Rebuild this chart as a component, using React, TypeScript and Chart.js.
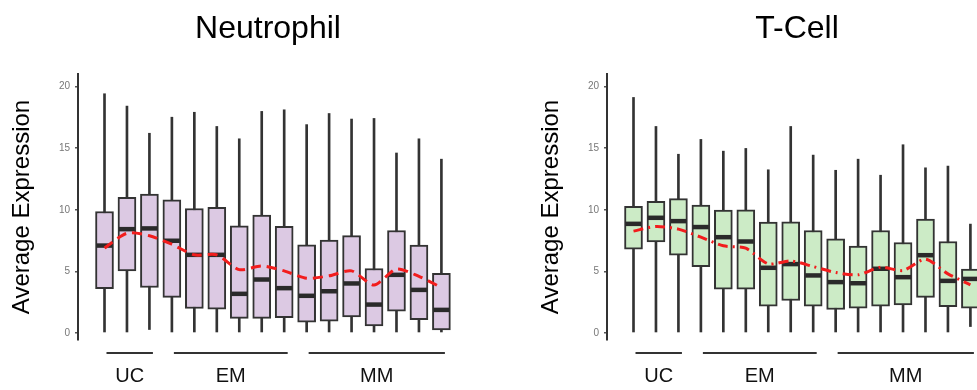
import React, { useEffect, useRef } from "react";
import { Chart, registerables } from "chart.js";

Chart.register(...registerables);

// ---------- data ----------
const BOX_INDEX = [0, 1, 2, 3, 4, 5, 6, 7, 8, 9, 10, 11, 12, 13, 14, 15];
const GROUP_NAMES = ["UC", "EM", "MM"];
const GROUP_FIRST = [0, 3, 9];
const GROUP_LAST = [2, 8, 15];
const Y_TICKS = [0, 5, 10, 15, 20];

const NEU_MIN = [0.1, 0.1, 0.3, 0.1, 0.1, 0.1, 0.1, 0.1, 0.1, 0.1, 0.1, 0.1, 0.1, 0.1, 0.1, 0.1];
const NEU_Q1 = [3.6, 5.05, 3.7, 2.9, 2.0, 1.95, 1.2, 1.2, 1.25, 0.9, 0.97, 1.32, 0.6, 1.78, 1.1, 0.27];
const NEU_MED = [7.1, 8.43, 8.49, 7.49, 6.35, 6.35, 3.19, 4.35, 3.65, 3.03, 3.4, 4.03, 2.32, 4.73, 3.51, 1.89];
const NEU_Q3 = [9.86, 11.0, 11.27, 10.8, 10.1, 10.2, 8.7, 9.57, 8.65, 7.16, 7.54, 7.9, 5.24, 8.32, 7.14, 4.86];
const NEU_MAX = [19.4, 18.4, 16.2, 17.5, 17.9, 16.75, 15.75, 17.97, 18.1, 16.9, 17.8, 17.35, 17.4, 14.6, 15.75, 14.1];
const NEU_MEAN = [6.9, 8.1, 7.9, 7.2, 6.35, 6.35, 5.15, 5.45, 5.05, 4.45, 4.65, 5.05, 3.9, 5.2, 4.6, 3.7];

const TC_MIN = [0.1, 0.1, 0.1, 0.1, 0.1, 0.1, 0.1, 0.1, 0.1, 0.1, 0.1, 0.1, 0.1, 0.1, 0.1, 0.54];
const TC_Q1 = [6.81, 7.4, 6.32, 5.4, 3.57, 3.57, 2.2, 2.65, 2.2, 1.92, 2.03, 2.2, 2.3, 2.9, 2.16, 2.03];
const TC_MED = [8.86, 9.35, 9.08, 8.6, 7.78, 7.43, 5.3, 5.6, 4.68, 4.14, 4.05, 5.22, 4.54, 6.32, 4.24, 4.4];
const TC_Q3 = [10.27, 10.68, 10.9, 10.38, 9.97, 10.0, 9.0, 9.03, 8.32, 7.65, 7.05, 8.32, 7.35, 9.24, 7.43, 5.2];
const TC_MAX = [19.1, 16.75, 14.5, 15.7, 14.75, 14.97, 13.24, 16.75, 14.43, 13.2, 14.1, 12.8, 15.27, 13.4, 13.54, 8.84];
const TC_MEAN = [8.27, 8.65, 8.43, 7.78, 7.08, 6.89, 5.62, 5.86, 5.4, 4.92, 4.73, 5.35, 5.08, 6.0, 4.81, 3.92];

// ---------- style ----------
const FONT = '"Liberation Sans", Arial, Helvetica, sans-serif';
const DARK = "#333333";
const RED = "#F21D1D";
const PANEL_W = 529;
const PANEL_H = 390;

const medianPlugin = {
  id: "medians",
  afterDatasetDraw(chart: any, args: any, opts: any) {
    const ds = chart.data.datasets[args.index];
    if (ds.label !== "box") return;
    const y = chart.scales.y;
    const ctx = chart.ctx;
    ctx.save();
    ctx.strokeStyle = "#2a2a2a";
    ctx.lineWidth = 4.5;
    args.meta.data.forEach((bar: any, i: number) => {
      const py = y.getPixelForValue(opts.values[i]);
      ctx.beginPath();
      ctx.moveTo(bar.x - bar.width / 2 + 1, py);
      ctx.lineTo(bar.x + bar.width / 2 - 1, py);
      ctx.stroke();
    });
    ctx.restore();
  },
};

const groupPlugin = {
  id: "groups",
  afterDraw(chart: any) {
    const x = chart.scales.x;
    const ctx = chart.ctx;
    const base = chart.chartArea.bottom;
    ctx.save();
    ctx.strokeStyle = DARK;
    ctx.lineWidth = 2;
    ctx.fillStyle = "#111";
    ctx.font = '20px "Liberation Sans Narrow", "Liberation Sans", Arial, sans-serif';
    ctx.textAlign = "center";
    ctx.textBaseline = "middle";
    GROUP_NAMES.forEach((name, g) => {
      const x1 = x.getPixelForValue(GROUP_FIRST[g]) + 2;
      const x2 = x.getPixelForValue(GROUP_LAST[g]) + 3.5;
      ctx.beginPath();
      ctx.moveTo(x1, base + 13);
      ctx.lineTo(x2, base + 13);
      ctx.stroke();
      ctx.fillText(name, (x1 + x2) / 2, base + 36);
    });
    ctx.restore();
  },
};

function makeConfig(
  title: string,
  mins: number[],
  q1: number[],
  med: number[],
  q3: number[],
  maxs: number[],
  mean: number[],
  fill: string,
  dash: number[]
): any {
  return {
    type: "bar",
    data: {
      datasets: [
        {
          type: "line",
          label: "mean",
          order: 0,
          data: BOX_INDEX.map((i) => ({ x: i, y: mean[i] })),
          borderColor: RED,
          borderWidth: 3,
          borderDash: dash,
          tension: 0.25,
          pointRadius: 0,
          fill: false,
        },
        {
          label: "box",
          order: 1,
          grouped: false,
          data: BOX_INDEX.map((i) => ({ x: i, y: [q1[i], q3[i]] })),
          backgroundColor: fill,
          borderColor: DARK,
          borderWidth: 2,
          borderSkipped: false,
          barThickness: 18,
        },
        {
          label: "whisker",
          order: 2,
          grouped: false,
          data: BOX_INDEX.map((i) => ({ x: i, y: [mins[i], maxs[i]] })),
          backgroundColor: DARK,
          borderWidth: 0,
          barThickness: 2,
        },
      ],
    },
    options: {
      responsive: false,
      animation: false,
      events: [],
      layout: { padding: { left: 7, right: 0, top: 0, bottom: 50 } },
      plugins: {
        legend: { display: false },
        tooltip: { enabled: false },
        title: {
          display: true,
          text: title,
          color: "#000",
          font: { family: FONT, size: 32, weight: "normal" },
          padding: { top: 10, bottom: 25.6 },
        },
        medians: { values: med },
      },
      scales: {
        x: {
          type: "linear",
          display: false,
          offset: false,
          min: -1.18,
          max: 18.9,
        },
        y: {
          type: "linear",
          min: -0.55,
          max: 21,
          afterFit(scale: any) {
            scale.width = 71;
          },
          afterBuildTicks(scale: any) {
            scale.ticks = Y_TICKS.map((v) => ({ value: v }));
          },
          border: { display: true, color: DARK, width: 2 },
          grid: {
            drawOnChartArea: false,
            drawTicks: true,
            tickLength: 3,
            color: "#555",
            lineWidth: 1.5,
          },
          ticks: {
            color: "#777",
            padding: 5,
            font: { family: FONT, size: 10 },
          },
          title: {
            display: true,
            text: "Average Expression",
            color: "#000",
            font: { family: FONT, size: 24 },
            padding: { top: 1, bottom: 0 },
          },
        },
      },
    },
    plugins: [medianPlugin, groupPlugin],
  };
}

function Panel({ make }: { make: () => any }) {
  const ref = useRef<HTMLCanvasElement>(null);
  useEffect(() => {
    const chart = new Chart(ref.current as HTMLCanvasElement, make());
    return () => chart.destroy();
  }, []);
  return (
    <div style={{ flex: `0 0 ${PANEL_W}px`, width: PANEL_W, height: PANEL_H }}>
      <canvas ref={ref} width={PANEL_W} height={PANEL_H} style={{ display: "block" }} />
    </div>
  );
}

export default function App() {
  return (
    <div
      style={{
        position: "absolute",
        left: 0,
        top: 0,
        width: 977,
        height: 390,
        overflow: "hidden",
        background: "#fff",
        display: "flex",
      }}
    >
      <Panel
        make={() =>
          makeConfig("Neutrophil", NEU_MIN, NEU_Q1, NEU_MED, NEU_Q3, NEU_MAX, NEU_MEAN, "#DCC9E3", [10, 6])
        }
      />
      <Panel
        make={() =>
          makeConfig("T-Cell", TC_MIN, TC_Q1, TC_MED, TC_Q3, TC_MAX, TC_MEAN, "#CCEBC6", [10, 5, 2, 5])
        }
      />
    </div>
  );
}
